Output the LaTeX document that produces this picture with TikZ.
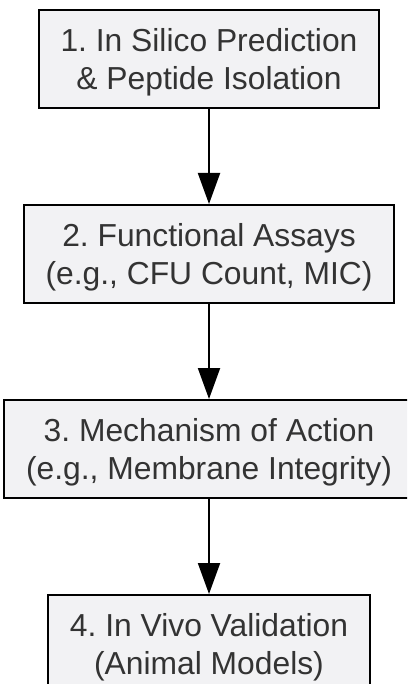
\documentclass[tikz,border=0pt]{standalone}
\usepackage{fontspec}
\setmainfont{Liberation Sans}
\usetikzlibrary{positioning,arrows.meta}
\definecolor{boxfill}{HTML}{F2F2F4}
\definecolor{boxtext}{HTML}{333333}
\frenchspacing

\begin{document}
\begin{tikzpicture}[x=1pt,y=1pt,node distance=95pt,
    stepbox/.style={draw=black,line width=2pt,fill=boxfill,text=boxtext,
      align=center,minimum height=98pt,inner xsep=22pt,text depth=0pt,
      font=\fontsize{31.8}{38}\selectfont},
    flow/.style={-{Triangle[length=31pt,width=22pt]},line width=2pt}]
    \useasboundingbox (0,0) rectangle (407,-684);
    \clip (0,0) rectangle (407,-684);

    % --- Steps
    \node[stepbox] (predict) at (209,-59) {1. In Silico Prediction\\\& Peptide Isolation};
    \node[stepbox,below=of predict] (assay) {2. Functional Assays\\(e.g., CFU Count, MIC)};
    \node[stepbox,below=of assay] (mechanism) {3. Mechanism of Action\\(e.g., Membrane Integrity)};
    \node[stepbox,below=of mechanism] (vivo) {4. In Vivo Validation\\(Animal Models)};

    % --- Arrows
    \draw[flow] (predict) -- (assay);
    \draw[flow] (assay) -- (mechanism);
    \draw[flow] (mechanism) -- (vivo);
  \end{tikzpicture}
\end{document}
